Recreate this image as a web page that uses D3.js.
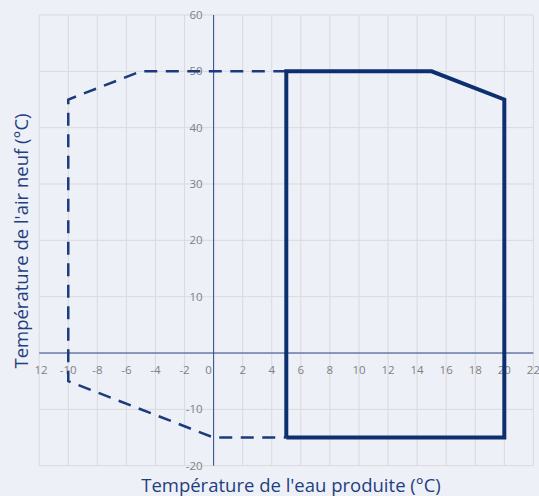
<!DOCTYPE html>
<html>
<head>
<meta charset="utf-8">
<script src="https://cdn.jsdelivr.net/npm/d3@7"></script>
<style>
  html, body { margin: 0; padding: 0; background: #eef0f8; }
  svg { display: block; font-family: "Open Sans", sans-serif; }
</style>
</head>
<body>
<svg width="539" height="496"></svg>
<script>
// limite etendue (pointillés)
const extX = [5, -5, -10, -10, 0, 5];
const extY = [50, 50, 45, -5, -15, -15];
// limite standard (trait plein)
const stdX = [5, 5, 15, 20, 20, 5];
const stdY = [-15, 50, 50, 45, -15, -15];

const xTicks = [-12, -10, -8, -6, -4, -2, 0, 2, 4, 6, 8, 10, 12, 14, 16, 18, 20, 22];
const yTicks = [-20, -10, 0, 10, 20, 30, 40, 50, 60];
const yLabels = [60, 50, 40, 30, 20, 10, -10, -20];

const xTitle = "Température de l'eau produite (°C)";
const yTitle = "Température de l'air neuf (°C)";

const width = 539, height = 496,
      svg = d3.select("svg");

const x = d3.scaleLinear().domain([-12, 22]).range([39.2, 533.4]);
const y = d3.scaleLinear().domain([-20, 60]).range([465.7, 15]);

// grille
svg.append("g")
   .selectAll("line.vgrid")
   .data(xTicks)
   .join("line")
     .attr("x1", d => x(d)).attr("x2", d => x(d))
     .attr("y1", y(60)).attr("y2", y(-20))
     .attr("stroke", "#d9d9de").attr("stroke-width", 1);
svg.append("g")
   .selectAll("line.hgrid")
   .data(yTicks)
   .join("line")
     .attr("y1", d => y(d)).attr("y2", d => y(d))
     .attr("x1", x(-12)).attr("x2", x(22))
     .attr("stroke", "#d9d9de").attr("stroke-width", 1);

// axes
svg.append("line")
   .attr("x1", x(-12)).attr("x2", x(22))
   .attr("y1", y(0)).attr("y2", y(0))
   .attr("stroke", "#2d4a8a").attr("stroke-width", 1);
svg.append("line")
   .attr("x1", x(0)).attr("x2", x(0))
   .attr("y1", y(60)).attr("y2", y(-20))
   .attr("stroke", "#2d4a8a").attr("stroke-width", 1);

// etiquettes
svg.append("clipPath").attr("id", "lblclip")
   .append("rect").attr("x", 35).attr("y", 0).attr("width", width).attr("height", height);

svg.append("g")
   .attr("clip-path", "url(#lblclip)")
   .selectAll("text")
   .data(xTicks)
   .join("text")
     .attr("x", d => x(d) + (d === 0 ? -5 : 0))
     .attr("y", y(0) + 21)
     .attr("text-anchor", "middle")
     .attr("font-size", 11.5)
     .attr("fill", "#7f7f7f")
     .text(d => d);

svg.append("g")
   .selectAll("text")
   .data(yLabels)
   .join("text")
     .attr("x", x(0) - 11)
     .attr("y", d => y(d) + 4)
     .attr("text-anchor", "end")
     .attr("font-size", 11.5)
     .attr("fill", "#7f7f7f")
     .text(d => d);

// series
const line = d3.line().x(d => x(d[0])).y(d => y(d[1]));

svg.append("path")
   .datum(extX.map((v, i) => [v, extY[i]]))
   .attr("d", line)
   .attr("fill", "none")
   .attr("stroke", "#1a3b7c")
   .attr("stroke-width", 2.5)
   .attr("stroke-dasharray", "13,8.5");

svg.append("path")
   .datum(stdX.map((v, i) => [v, stdY[i]]))
   .attr("d", line)
   .attr("fill", "none")
   .attr("stroke", "#0c2f6f")
   .attr("stroke-width", 4)
   .attr("stroke-linejoin", "miter");

// titres
svg.append("text")
   .attr("x", 291)
   .attr("y", 492)
   .attr("text-anchor", "middle")
   .attr("font-size", 18.5)
   .attr("fill", "#1f3f7f")
   .text(xTitle);

svg.append("text")
   .attr("transform", "translate(28,241) rotate(-90)")
   .attr("text-anchor", "middle")
   .attr("font-size", 18.5)
   .attr("fill", "#1f3f7f")
   .text(yTitle);
</script>
</body>
</html>
